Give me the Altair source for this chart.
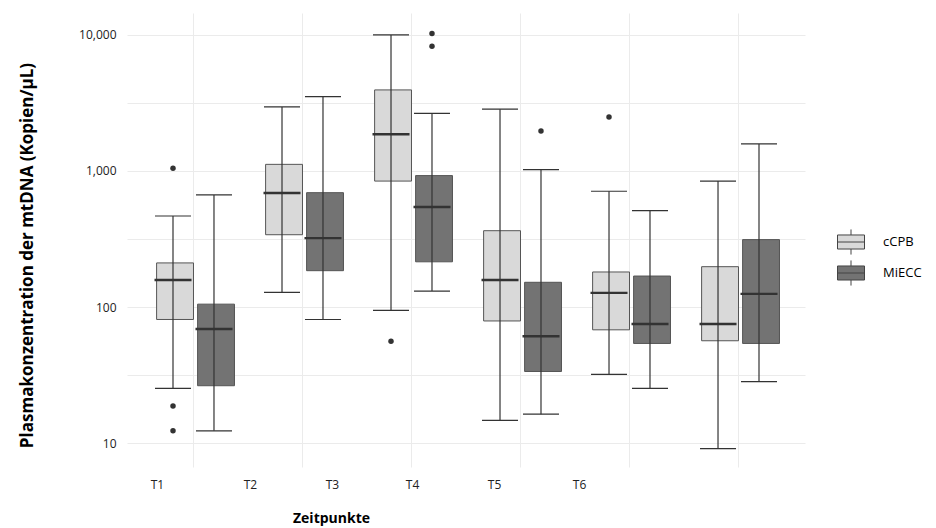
import altair as alt
import pandas as pd

categories = ["T1", "T2", "T3", "T4", "T5", "T6"]
groups = ["cCPB", "MiECC"]

# box statistics (copies / µL)
ccpb_low = [25.2, 128, 94.6, 14.7, 32, 9.1]
ccpb_q1 = [81, 340, 843, 79, 68, 56.5]
ccpb_med = [158, 689, 1862, 158, 127, 75]
ccpb_q3 = [211, 1119, 3944, 364, 181, 198]
ccpb_high = [467, 2958, 10000, 2846, 710, 843]

miecc_low = [12.3, 81, 131, 16.3, 25.2, 28.3]
miecc_q1 = [26.4, 185, 215, 33.6, 54, 54]
miecc_med = [69, 321, 543, 61, 75, 125]
miecc_q3 = [105, 693, 925, 152, 169, 313]
miecc_high = [667, 3525, 2656, 1023, 511, 1582]

outlier_time = ["T1", "T1", "T1", "T3", "T3", "T3", "T4", "T5"]
outlier_group = ["cCPB", "cCPB", "cCPB", "cCPB", "MiECC", "MiECC", "MiECC", "cCPB"]
outlier_value = [1047, 18.7, 12.3, 56, 10230, 8260, 1968, 2496]

y_ticks = [10, 31.6228, 100, 316.228, 1000, 3162.28, 10000]
label_shift = [-36, -52, -79, -108, -135, -159]

rows = []
for g, lo, q1, md, q3, hi in [
    ("cCPB", ccpb_low, ccpb_q1, ccpb_med, ccpb_q3, ccpb_high),
    ("MiECC", miecc_low, miecc_q1, miecc_med, miecc_q3, miecc_high),
]:
    for i, t in enumerate(categories):
        rows.append({"Zeit": t, "Gruppe": g, "low": lo[i], "q1": q1[i],
                     "med": md[i], "q3": q3[i], "high": hi[i]})
stats = pd.DataFrame(rows)
outs = pd.DataFrame({"Zeit": outlier_time, "Gruppe": outlier_group, "v": outlier_value})

font = "Open Sans"
yscale = alt.Scale(type="log", domain=[6.67, 14500], nice=False)
xscale = alt.Scale(domain=categories, paddingInner=0.248, paddingOuter=0.234)
xoff = alt.XOffset("Gruppe:N", scale=alt.Scale(domain=groups, paddingInner=0, paddingOuter=0))

shift_arr = "[" + ",".join(str(s) for s in label_shift) + "]"
cat_arr = "[" + ",".join("'" + c + "'" for c in categories) + "]"

x_axis = alt.Axis(
    title="Zeitpunkte", titleFont=font, titleFontSize=14, titleFontWeight="bold",
    titleColor="#000", titleX=204, titleY=51, titleBaseline="middle", titleAlign="center",
    labelFont=font, labelFontSize=12, labelColor="#222", labelPadding=12, labelAngle=0,
    labelOffset=alt.ExprRef(shift_arr + "[indexof(" + cat_arr + ", datum.value)]"),
    domain=False, ticks=False, grid=True, gridColor="#ebebeb", gridWidth=1,
    bandPosition=0.5,
)
y_axis = alt.Axis(
    title="Plasmakonzentration der mtDNA (Kopien/µL)", titleFont=font, titleFontSize=17,
    titleFontWeight="bold", titleColor="#000", titleX=-100, titleY=242,
    titleBaseline="middle", titleAngle=270, titleAlign="center",
    values=y_ticks,
    labelExpr="indexof([10,100,1000,10000], datum.value) >= 0 ? format(datum.value, ',') : ''",
    labelFont=font, labelFontSize=12, labelColor="#222", labelPadding=11,
    domain=False, ticks=False, grid=True, gridColor="#ebebeb", gridWidth=1,
)

x_enc = alt.X("Zeit:N", scale=xscale, axis=x_axis)

color = alt.Color(
    "Gruppe:N",
    scale=alt.Scale(domain=groups, range=["#d9d9d9", "#737373"]),
    legend=alt.Legend(
        title=None, orient="none", legendX=710, legendY=215,
        symbolType="M-1,-0.52H1V0.52H-1Z M-1,0H1 M0,-0.52V-0.93 M0,0.52V0.93",
        symbolSize=729, symbolStrokeColor="#444", symbolStrokeWidth=1,
        symbolOpacity=1, labelFont=font, labelFontSize=13, labelColor="#000",
        labelOffset=18, rowPadding=1, padding=0,
    ),
)

base = alt.Chart(stats)

boxes = base.mark_bar(width=alt.RelativeBandSize(0.9), stroke="#555", strokeWidth=1, opacity=1).encode(
    x=x_enc, xOffset=xoff,
    y=alt.Y("q1:Q", scale=yscale, axis=y_axis), y2="q3:Q",
    fill=color,
)
whisk = base.mark_rule(color="#333", strokeWidth=1.2, opacity=1).encode(
    x=x_enc, xOffset=xoff, y=alt.Y("low:Q", scale=yscale), y2="high:Q",
)
cap_hi = base.mark_tick(color="#333", size=36, thickness=1.2, opacity=1).encode(
    x=x_enc, xOffset=xoff, y=alt.Y("high:Q", scale=yscale),
)
cap_lo = base.mark_tick(color="#333", size=36, thickness=1.2, opacity=1).encode(
    x=x_enc, xOffset=xoff, y=alt.Y("low:Q", scale=yscale),
)
median = base.mark_tick(color="#333", size=37, thickness=2.4, opacity=1).encode(
    x=x_enc, xOffset=xoff, y=alt.Y("med:Q", scale=yscale),
)
points = alt.Chart(outs).mark_circle(color="#333", size=30, opacity=1).encode(
    x=x_enc, xOffset=xoff, y=alt.Y("v:Q", scale=yscale),
)

chart = alt.layer(boxes, whisk, cap_hi, cap_lo, median, points).properties(
    width=678, height=454, padding={"left": 9, "top": 5, "right": 5, "bottom": 5},
    background="white",
).configure_view(stroke=None)

chart.save("out.html", embed_options={"renderer": "svg", "actions": False})
